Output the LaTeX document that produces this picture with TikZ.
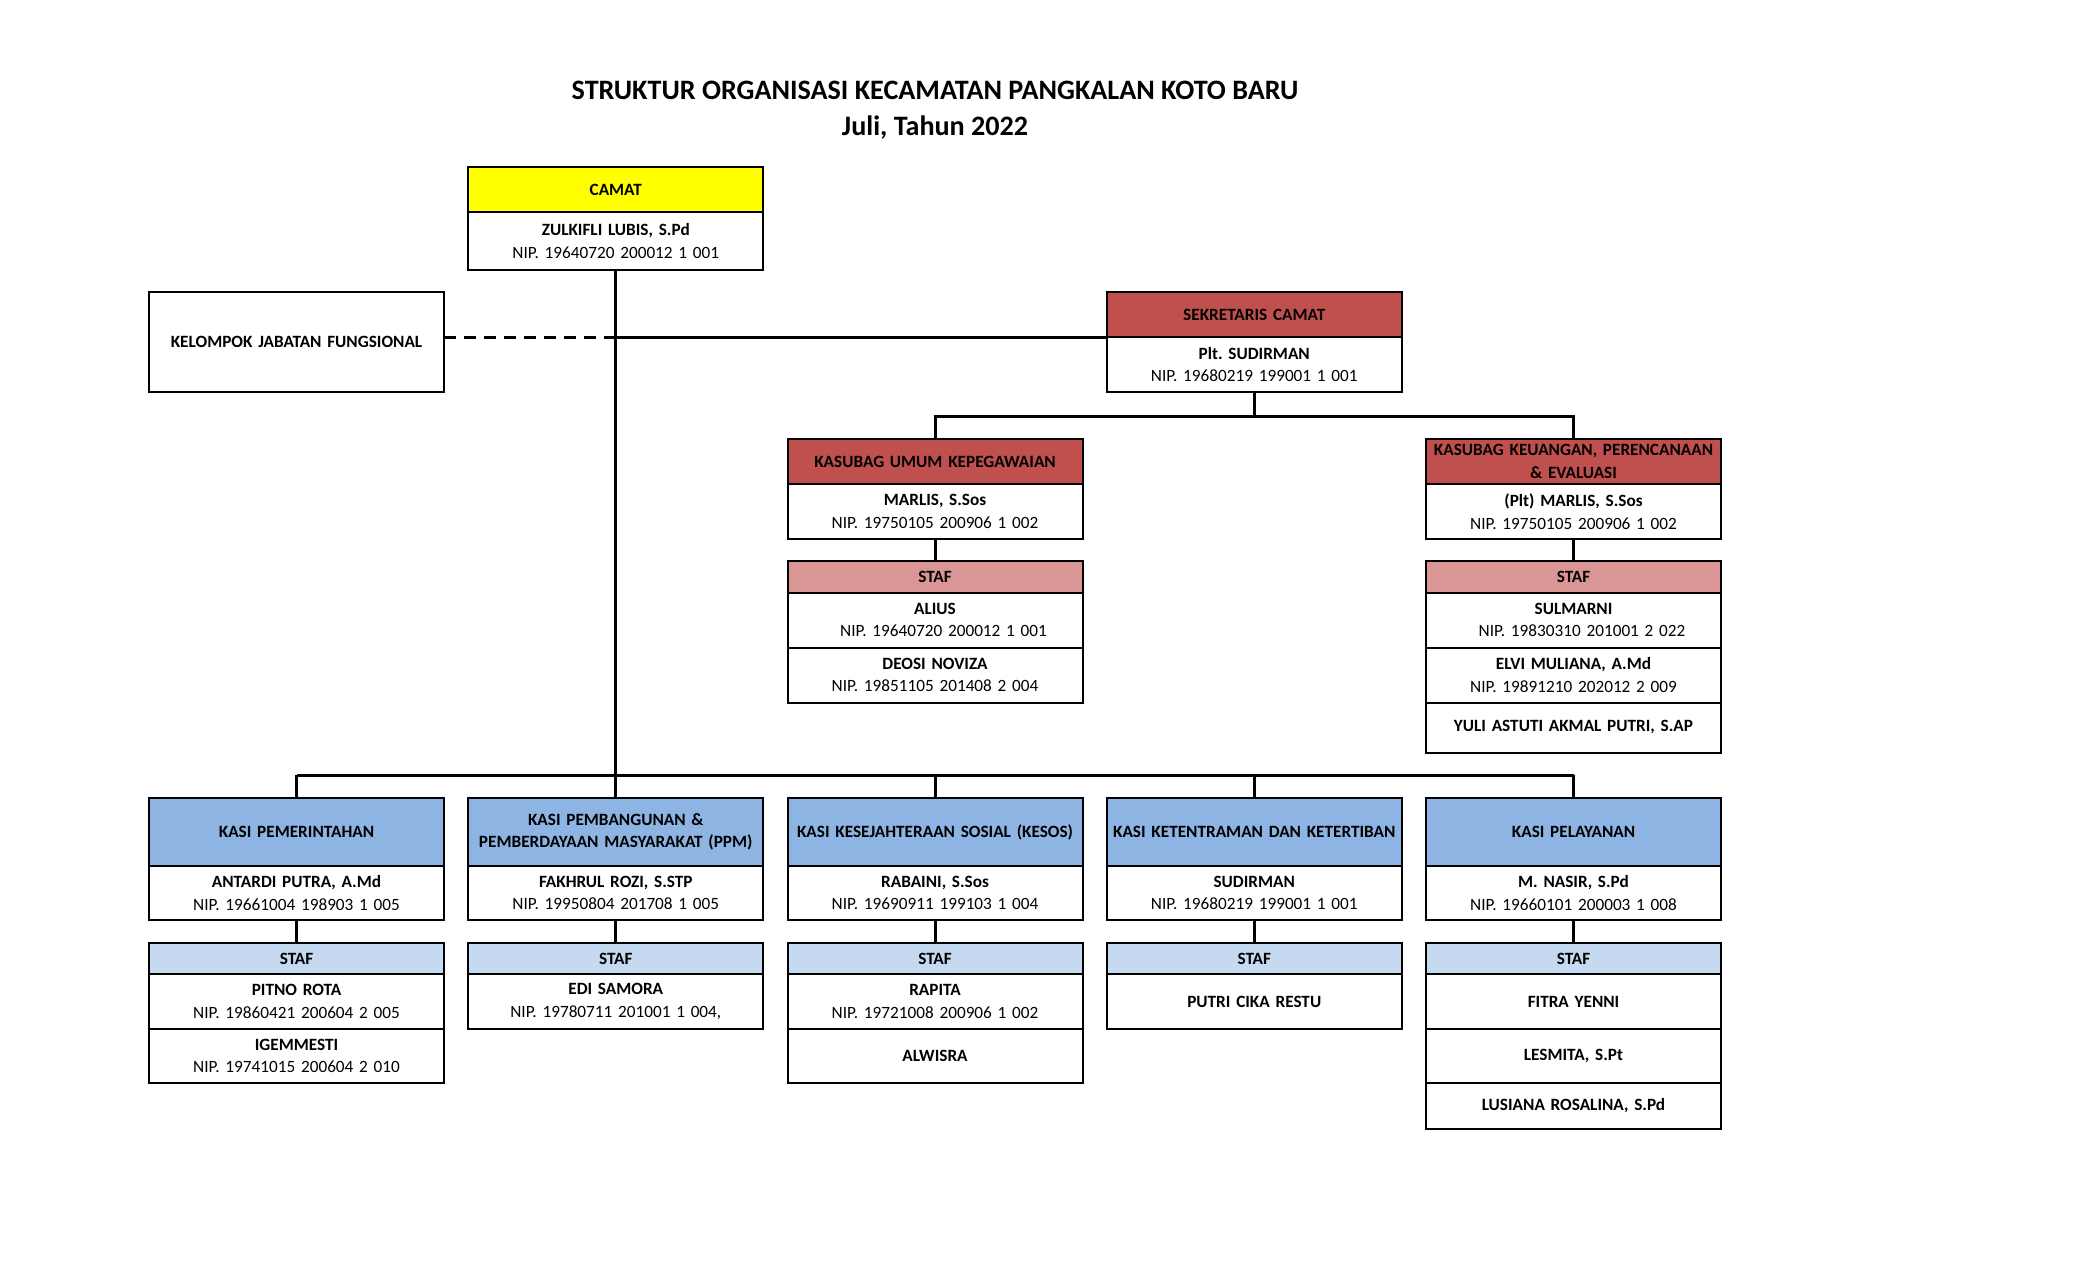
\documentclass[tikz,border=0pt]{standalone}
\usepackage{fontspec}
\setmainfont{Carlito}
\usetikzlibrary{positioning}
\frenchspacing
\definecolor{kuning}{RGB}{255,255,0}
\definecolor{merah}{RGB}{192,80,77}
\definecolor{merahmuda}{RGB}{218,150,148}
\definecolor{biru}{RGB}{141,180,226}
\definecolor{birumuda}{RGB}{197,217,241}
\tikzset{
	kotak/.style={draw,line width=0.4mm,minimum width=59mm,text width=57mm,align=center,
		inner sep=0pt,outer sep=0pt,anchor=north,font=\fontsize{9.8}{12.9}\selectfont},
	kepala/.style={kotak,font=\fontsize{9.8}{12.9}\selectfont\bfseries},
	garis/.style={line width=0.6mm},
}
\begin{document}
\begin{tikzpicture}[x=0.2mm,y=-0.2mm]
		\useasboundingbox(0,0)rectangle(2100,1275);
		% judul
		\node[font=\fontsize{16}{20.5}\selectfont\bfseries,align=center](judul)at(935,110)
			{STRUKTUR ORGANISASI KECAMATAN PANGKALAN KOTO BARU\\Juli, Tahun 2022};
		% camat, fungsional, sekretaris
		\node[kepala,fill=kuning,minimum height=9.1mm](camat)at(615.75,167){CAMAT};
		\node[kotak,minimum height=11.4mm,below=0pt of camat](camatb)
			{\textbf{ZULKIFLI LUBIS, S.Pd}\\NIP. 19640720 200012 1 001};
		\node[kepala,minimum height=20mm](fungsional)at(296.5,292){KELOMPOK JABATAN FUNGSIONAL};
		\node[kepala,fill=merah,minimum height=9mm](sekcam)at(1254.25,292){SEKRETARIS CAMAT};
		\node[kotak,minimum height=11mm,below=0pt of sekcam](sekcamb)
			{\textbf{Plt. SUDIRMAN}\\NIP. 19680219 199001 1 001};
		% kasubag
		\node[kepala,fill=merah,minimum height=9mm](umum)at(935,439){KASUBAG UMUM KEPEGAWAIAN};
		\node[kotak,minimum height=11mm,below=0pt of umum](umumb)
			{\textbf{MARLIS, S.Sos}\\NIP. 19750105 200906 1 002};
		\node[kepala,fill=merahmuda,minimum height=6.3mm,below=4.4mm of umumb](sumum){STAF};
		\node[kotak,minimum height=11mm,below=0pt of sumum](sumum1)
			{\textbf{ALIUS}\\\hspace*{3.4mm}NIP. 19640720 200012 1 001};
		\node[kotak,minimum height=11mm,below=0pt of sumum1](sumum2)
			{\textbf{DEOSI NOVIZA}\\NIP. 19851105 201408 2 004};
		\node[kepala,fill=merah,minimum height=9mm](keu)at(1573.5,439)
			{KASUBAG KEUANGAN, PERENCANAAN\\\& EVALUASI};
		\node[kotak,minimum height=11mm,below=0pt of keu](keub)
			{\textbf{(Plt) MARLIS, S.Sos}\\NIP. 19750105 200906 1 002};
		\node[kepala,fill=merahmuda,minimum height=6.3mm,below=4.4mm of keub](skeu){STAF};
		\node[kotak,minimum height=11mm,below=0pt of skeu](skeu1)
			{\textbf{SULMARNI}\\\hspace*{3.4mm}NIP. 19830310 201001 2 022};
		\node[kotak,minimum height=11mm,below=0pt of skeu1](skeu2)
			{\textbf{ELVI MULIANA, A.Md}\\NIP. 19891210 202012 2 009};
		\node[kepala,minimum height=10mm,below=0pt of skeu2](skeu3){YULI ASTUTI AKMAL PUTRI, S.AP};
		% kasi
		\coordinate(bus)at(615.75,775);
		\foreach \i/\judul/\nama/\nip in {
			0/{KASI PEMERINTAHAN}/{ANTARDI PUTRA, A.Md}/{19661004 198903 1 005},
			1/{KASI PEMBANGUNAN \&\\PEMBERDAYAAN MASYARAKAT (PPM)}/{FAKHRUL ROZI, S.STP}/{19950804 201708 1 005},
			2/{KASI KESEJAHTERAAN SOSIAL (KESOS)}/{RABAINI, S.Sos}/{19690911 199103 1 004},
			3/{KASI KETENTRAMAN DAN KETERTIBAN}/{SUDIRMAN}/{19680219 199001 1 001},
			4/{KASI PELAYANAN}/{M. NASIR, S.Pd}/{19660101 200003 1 008}}{
			\node[kepala,fill=biru,minimum height=13.6mm](kasi\i)at({296.5+319.25*\i},798){\judul};
			\node[kotak,minimum height=10.8mm,below=0pt of kasi\i](nama\i)
				{\textbf{\nama}\\NIP. \nip};
			\node[kepala,fill=birumuda,minimum height=6.2mm,below=4.6mm of nama\i](staf\i){STAF};
			\draw[garis](nama\i)--(staf\i);
			\draw[garis](kasi\i)--(kasi\i|-bus);
		}
		% staf kasi
		\node[kotak,minimum height=11mm,below=0pt of staf0](staf0a)
			{\textbf{PITNO ROTA}\\NIP. 19860421 200604 2 005};
		\node[kotak,minimum height=10.8mm,below=0pt of staf0a](staf0b)
			{\textbf{IGEMMESTI}\\NIP. 19741015 200604 2 010};
		\node[kotak,minimum height=11mm,below=0pt of staf1](staf1a)
			{\textbf{EDI SAMORA}\\NIP. 19780711 201001 1 004,};
		\node[kotak,minimum height=11mm,below=0pt of staf2](staf2a)
			{\textbf{RAPITA}\\NIP. 19721008 200906 1 002};
		\node[kepala,minimum height=10.8mm,below=0pt of staf2a](staf2b){ALWISRA};
		\node[kepala,minimum height=11mm,below=0pt of staf3](staf3a){PUTRI CIKA RESTU};
		\node[kepala,minimum height=11mm,below=0pt of staf4](staf4a){FITRA YENNI};
		\node[kepala,minimum height=10.8mm,below=0pt of staf4a](staf4b){LESMITA, S.Pt};
		\node[kepala,minimum height=9.2mm,below=0pt of staf4b](staf4c){LUSIANA ROSALINA, S.Pd};
		% garis penghubung
		\draw[garis](camatb)--(bus);
		\draw[garis](kasi0|-bus)--(kasi4|-bus);
		\draw[garis](camatb|-sekcam.south west)--(sekcam.south west);
		\draw[garis,dash pattern=on 2.3mm off 1.7mm](fungsional.east|-sekcam.south west)
			--(camatb|-sekcam.south west);
		\coordinate(bus2)at(1254.25,416);
		\draw[garis](sekcamb)--(bus2);
		\draw[garis](umum)--(umum|-bus2)--(keu|-bus2)--(keu);
		\draw[garis](umumb)--(sumum);
		\draw[garis](keub)--(skeu);

	\end{tikzpicture}
\end{document}
